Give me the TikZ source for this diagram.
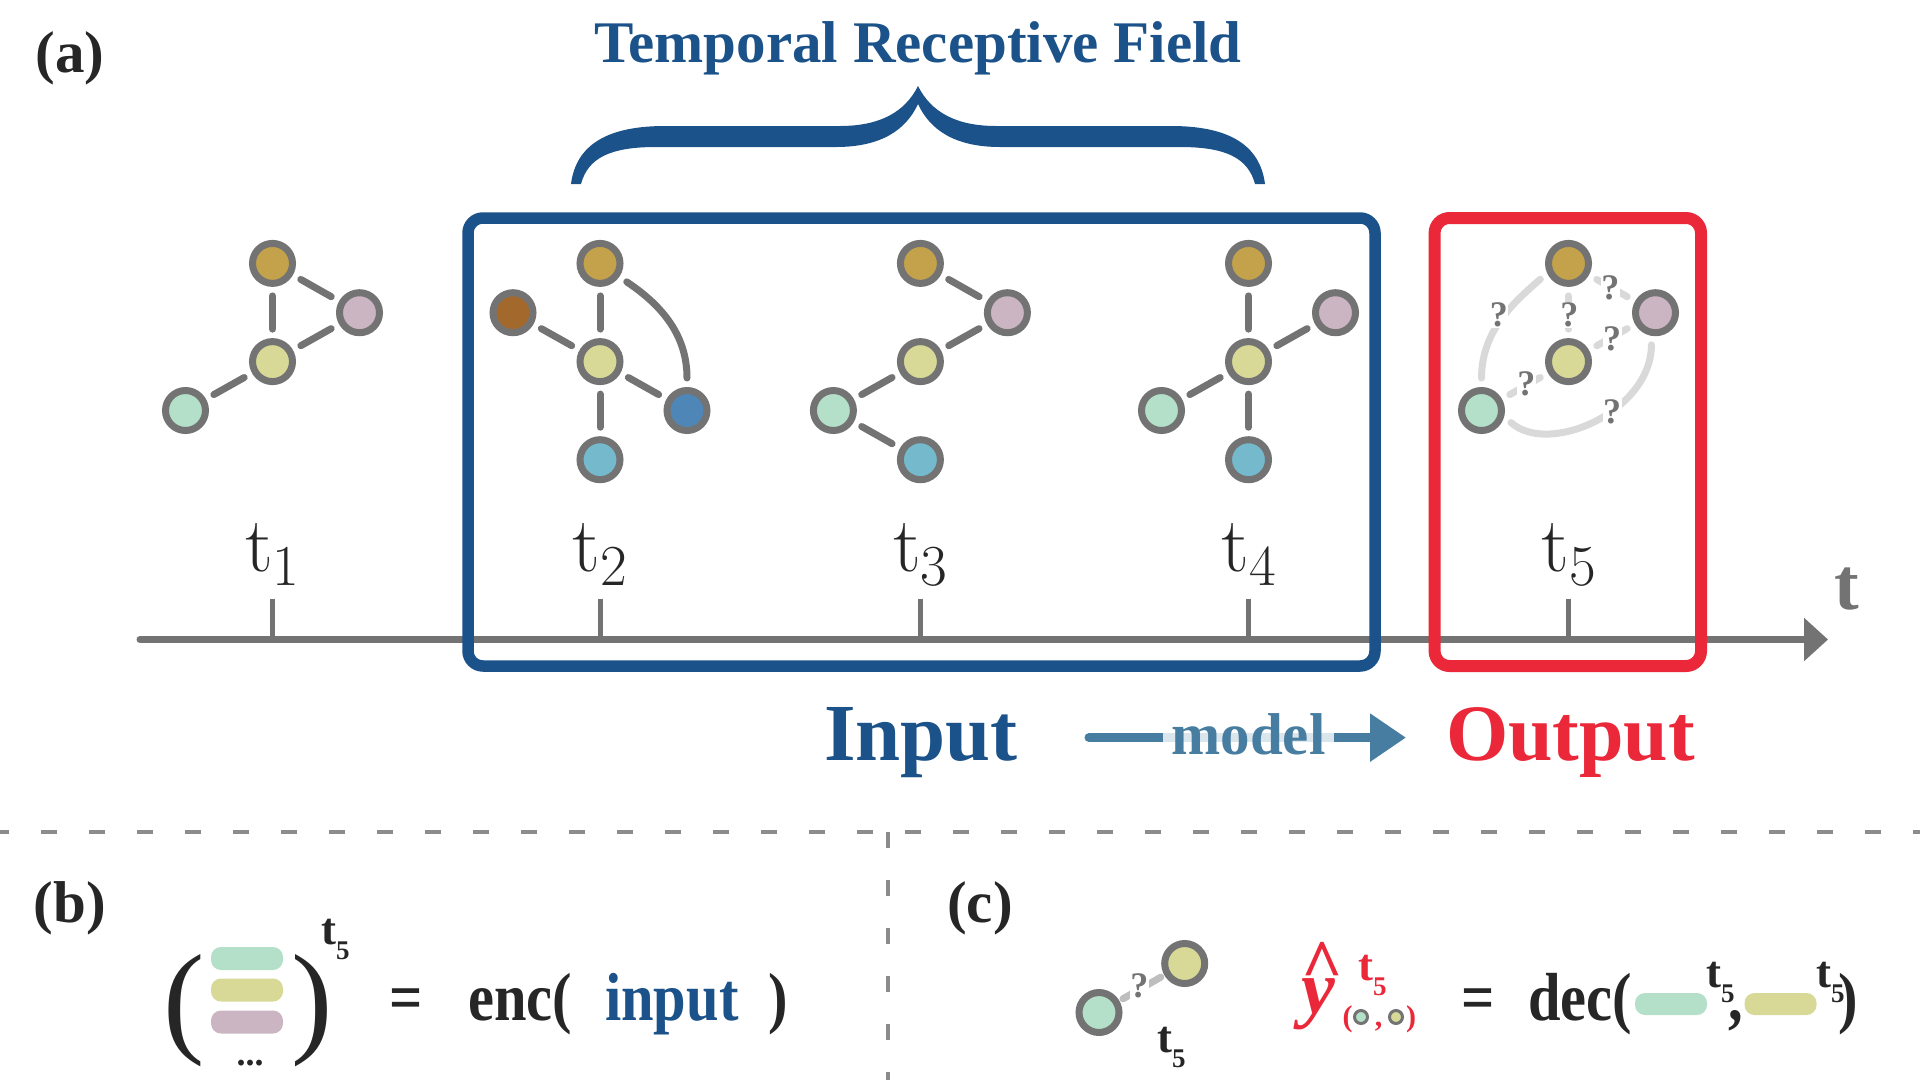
\documentclass[tikz,border=0pt]{standalone}
\usepackage{fontspec}
\usetikzlibrary{arrows.meta}
\newfontfamily\tnr{Liberation Serif}
\newfontfamily\tnrc[FakeStretch=0.86]{Liberation Serif}
\newcommand\pxfont[1]{\fontsize{#1}{#1}\selectfont}
\newcommand\tfive{t\raisebox{-15pt}{\pxfont{27}5}}
\newcommand\tlab[1]{\pxfont{78}t\raisebox{-14pt}{\pxfont{58}#1}}

\definecolor{ngray}{HTML}{737373}
\definecolor{qgray}{HTML}{D9D9D9}
\definecolor{lgray}{HTML}{BEBEBE}
\definecolor{dgray}{HTML}{8C8C8C}
\definecolor{ink}{HTML}{262626}
\definecolor{tblue}{HTML}{1B5289}
\definecolor{tred}{HTML}{EA2839}
\definecolor{mblue}{HTML}{477DA0}
\definecolor{cgold}{HTML}{C4A24C}
\definecolor{cpink}{HTML}{CBB5C2}
\definecolor{cyel}{HTML}{D8D996}
\definecolor{cgreen}{HTML}{B4DFC8}
\definecolor{cbrown}{HTML}{A3692C}
\definecolor{cblue}{HTML}{4F86B8}
\definecolor{ccyan}{HTML}{74B9CC}

\tikzset{
	vtx/.style={circle, draw=ngray, line width=7pt, minimum size=40pt, inner sep=0pt},
	mini/.style={circle, draw=ngray, line width=3pt, minimum size=13pt, inner sep=0pt},
	edge/.style={draw=ngray, line width=7pt, line cap=round, shorten >=9pt, shorten <=9pt},
	qedge/.style={edge, draw=qgray},
	qmark/.style={text=ngray, fill=white, inner sep=0.5pt, font=\tnr\bfseries\pxfont{36}},
	lbl/.style={inner sep=0pt, anchor=base, text=ink},
	bar/.style={rounded corners=10pt, minimum width=72pt, minimum height=23pt, inner sep=0pt},
}

\begin{document}
\begin{tikzpicture}[x=1pt,y=-1pt]
	\useasboundingbox (0,0) rectangle (1920,1080);

	\node[lbl] (la) at (70,72) {\tnr\bfseries\pxfont{59}(a)};
	\node[lbl, text=tblue] (trf) at (918,62) {\tnr\bfseries\pxfont{59}Temporal Receptive Field};

	% brace
	\fill[tblue] (571,184) .. controls (576,145) and (607,126) .. (665,126) -- (840,126)
		.. controls (880,126) and (905,112) .. (918,86)
		.. controls (931,112) and (956,126) .. (996,126) -- (1171,126)
		.. controls (1229,126) and (1260,145) .. (1265,184) -- (1255,184)
		.. controls (1248,158) and (1226,147) .. (1180,147) -- (1000,147)
		.. controls (955,147) and (930,130) .. (918,104)
		.. controls (906,130) and (881,147) .. (836,147) -- (656,147)
		.. controls (610,147) and (588,158) .. (581,184) -- cycle;

	% time axis
	\coordinate (axl) at (140,639.5);
	\coordinate (axr) at (1828,639.5);
	\draw[ngray, line width=7pt, line cap=round, -{Triangle[length=24pt,width=42pt]}] (axl) -- (axr);
	\draw[ngray, line width=5pt] (272.5,599) -- (272.5,639.5);
	\draw[ngray, line width=5pt] (600,599) -- (600,639.5);
	\draw[ngray, line width=5pt] (920.4,599) -- (920.4,639.5);
	\draw[ngray, line width=5pt] (1248.5,599) -- (1248.5,639.5);
	\draw[ngray, line width=5pt] (1568.5,599) -- (1568.5,639.5);
	\node[lbl, text=ngray] (tax) at (1847,609) {\tnr\bfseries\pxfont{74}t};

	\node[lbl] (t1) at (272.5,571) {\tlab{1}};
	\node[lbl] (t2) at (600,571) {\tlab{2}};
	\node[lbl] (t3) at (920.4,571) {\tlab{3}};
	\node[lbl] (t4) at (1248.5,571) {\tlab{4}};
	\node[lbl] (t5) at (1568.5,571) {\tlab{5}};

	\draw[tblue, line width=11.5pt, rounded corners=15pt] (468,218) rectangle (1375,666);
	\draw[tred, line width=12pt, rounded corners=15pt] (1434.6,218) rectangle (1701,666);

	% t1
	\node[vtx, fill=cgold] (go1) at (272.5,263.4) {};
	\node[vtx, fill=cpink] (pk1) at (359.5,312.7) {};
	\node[vtx, fill=cyel] (yl1) at (272.5,361.6) {};
	\node[vtx, fill=cgreen] (gr1) at (185.5,410.5) {};
	\draw[edge] (go1) -- (yl1);
	\draw[edge] (go1) -- (pk1);
	\draw[edge] (pk1) -- (yl1);
	\draw[edge] (yl1) -- (gr1);

	% t2
	\node[vtx, fill=cgold] (go2) at (600,263.4) {};
	\node[vtx, fill=cbrown] (br2) at (513,312.7) {};
	\node[vtx, fill=cyel] (yl2) at (600,361.6) {};
	\node[vtx, fill=cblue] (bl2) at (687,410.5) {};
	\node[vtx, fill=ccyan] (cy2) at (600,459.7) {};
	\draw[edge] (go2) -- (yl2);
	\draw[edge] (br2) -- (yl2);
	\draw[edge] (yl2) -- (bl2);
	\draw[edge] (yl2) -- (cy2);
	\draw[edge] (go2.-35) .. controls +(45,30) and +(0,-50) .. (bl2.north);

	% t3
	\node[vtx, fill=cgold] (go3) at (920.4,263.4) {};
	\node[vtx, fill=cpink] (pk3) at (1007.4,312.7) {};
	\node[vtx, fill=cyel] (yl3) at (920.4,361.6) {};
	\node[vtx, fill=cgreen] (gr3) at (833.4,410.5) {};
	\node[vtx, fill=ccyan] (cy3) at (920.4,459.7) {};
	\draw[edge] (go3) -- (pk3);
	\draw[edge] (pk3) -- (yl3);
	\draw[edge] (yl3) -- (gr3);
	\draw[edge] (gr3) -- (cy3);

	% t4
	\node[vtx, fill=cgold] (go4) at (1248.5,263.4) {};
	\node[vtx, fill=cpink] (pk4) at (1335.5,312.7) {};
	\node[vtx, fill=cyel] (yl4) at (1248.5,361.6) {};
	\node[vtx, fill=cgreen] (gr4) at (1161.5,410.5) {};
	\node[vtx, fill=ccyan] (cy4) at (1248.5,459.7) {};
	\draw[edge] (go4) -- (yl4);
	\draw[edge] (pk4) -- (yl4);
	\draw[edge] (yl4) -- (gr4);
	\draw[edge] (yl4) -- (cy4);

	% t5
	\node[vtx, fill=cgold] (go5) at (1568.5,263.4) {};
	\node[vtx, fill=cpink] (pk5) at (1655.5,312.7) {};
	\node[vtx, fill=cyel] (yl5) at (1568.5,361.6) {};
	\node[vtx, fill=cgreen] (gr5) at (1481.5,410.5) {};
	\draw[qedge] (go5) -- (yl5);
	\draw[qedge] (go5) -- (pk5);
	\draw[qedge] (pk5) -- (yl5);
	\draw[qedge] (yl5) -- (gr5);
	\draw[qedge] (gr5.north) .. controls +(0,-55) and +(-35,30) .. (go5.-155);
	\draw[qedge] (gr5.-15) .. controls +(45,40) and +(0,75) .. (pk5.-100);
	\node[qmark] (q1) at (1610.3,287.5) {?};
	\node[qmark] (q2) at (1498.9,315) {?};
	\node[qmark] (q3) at (1569.3,315) {?};
	\node[qmark] (q4) at (1612,339) {?};
	\node[qmark] (q5) at (1526.4,384) {?};
	\node[qmark] (q6) at (1612,411.5) {?};

	\node[lbl, text=tblue] (inp) at (921,760) {\tnr\bfseries\pxfont{81}Input};
	\node[lbl, text=tred] (outp) at (1570.5,760) {\tnr\bfseries\pxfont{80}Output};
	\coordinate (ms) at (1089,737.6);
	\coordinate (me) at (1406,737.6);
	\draw[mblue, line width=9pt, line cap=round, -{Triangle[length=36pt,width=46pt]}] (ms) -- (me);
	\node[lbl, text=mblue, fill=white, fill opacity=0.8, text opacity=1, inner xsep=8pt] (mdl) at (1248.5,754) {\tnr\bfseries\pxfont{59}model};

	\draw[dgray, line width=4pt, dash pattern=on 16pt off 32pt, dash phase=7pt] (0,832) -- (1920,832);
	\draw[dgray, line width=4pt, dash pattern=on 16pt off 32pt] (888,832) -- (888,1080);

	% (b)
	\node[lbl] (lb) at (70,922) {\tnr\bfseries\pxfont{59}(b)};
	\node[lbl] (lpar) at (184,1040) {\tnr\pxfont{124}(};
	\node[lbl] (rpar) at (312,1040) {\tnr\pxfont{124})};
	\node[bar, fill=cgreen] (bg) at (247,958.5) {};
	\node[bar, fill=cyel] (by) at (247,990) {};
	\node[bar, fill=cpink] (bp) at (247,1022) {};
	\node[lbl] (dots) at (250,1065) {\tnr\bfseries\pxfont{36}...};
	\node[lbl, anchor=base west] (bt5) at (321,944.5) {\tnr\bfseries\pxfont{45}\tfive};
	\node[lbl] (beq) at (406,1020) {\tnrc\bfseries\pxfont{68}=};
	\node[lbl, anchor=base west] (enc) at (468,1020) {\tnrc\bfseries\pxfont{68}enc(};
	\node[lbl, anchor=base west, text=tblue] (binp) at (605,1020) {\tnrc\bfseries\pxfont{68}input};
	\node[lbl, anchor=base west] (bcl) at (768,1020) {\tnrc\bfseries\pxfont{68})};

	% (c)
	\node[lbl] (lc) at (980,922) {\tnr\bfseries\pxfont{59}(c)};
	\node[vtx, fill=cgreen] (cg) at (1099,1012.5) {};
	\node[vtx, fill=cyel] (cy) at (1184.7,963.5) {};
	\draw[edge, draw=lgray, shorten >=4pt, shorten <=4pt] (cg) -- (cy);
	\node[qmark] (cq) at (1139.4,986) {?};
	\node[lbl, anchor=base west] (ct5) at (1157,1052.5) {\tnr\bfseries\pxfont{45}\tfive};

	\node[lbl, text=tred] (yh) at (1318,1013) {\tnr\bfseries\itshape\pxfont{76}y};
	\node[lbl, text=tred] (hat) at (1322.5,989) {\tnr\bfseries\pxfont{72}\textasciicircum};
	\node[lbl, anchor=base west, text=tred] (yt5) at (1358,980) {\tnr\bfseries\pxfont{45}\tfive};
	\node[lbl, text=tred] (sop) at (1347.5,1026) {\tnr\bfseries\pxfont{30}(};
	\node[mini, fill=cgreen] (sg) at (1361,1017) {};
	\node[lbl, text=tred] (scm) at (1378.5,1026) {\tnr\bfseries\pxfont{30},};
	\node[mini, fill=cyel] (sy) at (1396,1017) {};
	\node[lbl, text=tred] (scl) at (1411,1026) {\tnr\bfseries\pxfont{30})};

	\node[lbl] (ceq) at (1478,1020) {\tnrc\bfseries\pxfont{68}=};
	\node[lbl, anchor=base west] (dec) at (1528,1020) {\tnrc\bfseries\pxfont{68}dec(};
	\node[bar, fill=cgreen, minimum height=22pt] (cbg) at (1671,1004) {};
	\node[lbl, anchor=base west] (dt5a) at (1706,987.5) {\tnr\bfseries\pxfont{45}\tfive};
	\node[lbl, anchor=base west] (dcm) at (1728,1020) {\tnrc\bfseries\pxfont{68},};
	\node[bar, fill=cyel, minimum height=22pt] (cby) at (1780.5,1004) {};
	\node[lbl, anchor=base west] (dt5b) at (1816,987.5) {\tnr\bfseries\pxfont{45}\tfive};
	\node[lbl, anchor=base west] (dcl) at (1838,1020) {\tnrc\bfseries\pxfont{68})};
\end{tikzpicture}
\end{document}
